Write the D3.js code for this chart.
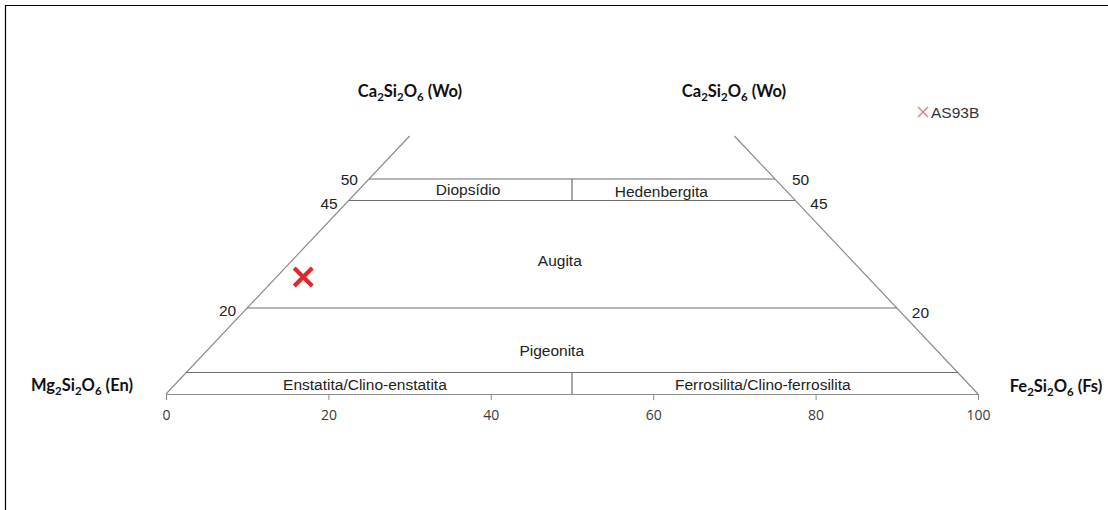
<!DOCTYPE html>
<html><head><meta charset="utf-8">
<script src="https://cdn.jsdelivr.net/npm/d3@7"></script>
<style>body{margin:0;background:#fff}svg{display:block}</style>
</head><body>
<script>
// ---- data ----
const xTicks = [0, 20, 40, 60, 80, 100];
const woLevels = [50, 45, 20, 5];           // horizontal boundaries (Wo %)
const sideLabelsLeft = [50, 45, 20];
const sideLabelsRight = [50, 45, 20];
const dividerRanges = [[45, 50], [0, 5]];   // vertical divider at Fs/(En+Fs)=50
const regionNames = ["Diopsídio", "Hedenbergita", "Augita", "Pigeonita", "Enstatita/Clino-enstatita", "Ferrosilita/Clino-ferrosilita"];
const regionPos = [[37.2, 47.4], [61, 47], [48.5, 31], [47.5, 10], [24.5, 2.2], [73.5, 2.2]]; // [x, Wo]
const sampleName = ["AS93B"];
const sampleFs = [3.3];
const sampleWo = [27.2];

const W = 1108, H = 510;
const svg = d3.select("body").append("svg").attr("width", W).attr("height", H);

// frame
svg.append("path").attr("d", "M5.5,510 V5.5 H1108").attr("fill", "none").attr("stroke", "#000").attr("stroke-width", 1.2);

const x = d3.scaleLinear().domain([0, 100]).range([166, 978]);
const y = d3.scaleLinear().domain([0, 60]).range([394, 136]);
const pos = (fs, wo) => [x(fs + wo / 2), y(wo)];

const g = svg.append("g");
// sides
g.append("line").attr("x1", x(0)).attr("y1", y(0)).attr("x2", x(30)).attr("y2", y(60)).attr("stroke", "#8c8c8c").attr("stroke-width", 1.2);
g.append("line").attr("x1", x(100)).attr("y1", y(0)).attr("x2", x(70)).attr("y2", y(60)).attr("stroke", "#8c8c8c").attr("stroke-width", 1.2);
// horizontal levels
g.selectAll("line.lev").data(woLevels).join("line").attr("class", "lev")
  .attr("x1", d => x(d / 2)).attr("x2", d => x(100 - d / 2))
  .attr("y1", d => y(d)).attr("y2", d => y(d))
  .attr("stroke", "#6e6e6e").attr("stroke-width", 1.2);
// dividers
g.selectAll("line.div").data(dividerRanges).join("line").attr("class", "div")
  .attr("x1", x(50)).attr("x2", x(50)).attr("y1", d => y(d[0])).attr("y2", d => y(d[1]))
  .attr("stroke", "#6e6e6e").attr("stroke-width", 1.2);

// axis
const axis = d3.axisBottom(x).tickValues(xTicks).tickSize(6).tickPadding(10).tickSizeOuter(0);
const ag = svg.append("g").attr("transform", `translate(0,${y(0)})`).call(axis);
ag.select(".domain").attr("stroke", "#8c8c8c").attr("stroke-width", 1.2);
ag.selectAll(".tick line").attr("stroke", "#8c8c8c");
ag.selectAll(".tick text").attr("font-family", "'Open Sans', sans-serif").attr("font-size", 14).attr("fill", "#3a3a3a");

// side labels
const lab = {"font-family": "'Liberation Sans', Arial, sans-serif", "font-size": 15.5, "fill": "#222"};
function applyAttrs(sel, o) { for (const k in o) sel.attr(k, o[k]); return sel; }
applyAttrs(svg.selectAll("text.sl").data(sideLabelsLeft).join("text").attr("class", "sl")
  .attr("x", d => x(d / 2) - 11).attr("y", d => y(d) + (d === 50 ? 6 : 8))
  .attr("text-anchor", "end").text(d => d), lab);
applyAttrs(svg.selectAll("text.sr").data(sideLabelsRight).join("text").attr("class", "sr")
  .attr("x", d => x(100 - d / 2) + (d === 50 ? 17 : 15)).attr("y", d => y(d) + (d === 50 ? 6 : d === 20 ? 10 : 8))
  .attr("text-anchor", "start").text(d => d), lab);

// region labels
applyAttrs(svg.selectAll("text.rg").data(regionNames).join("text").attr("class", "rg")
  .attr("x", (d, i) => x(regionPos[i][0])).attr("y", (d, i) => y(regionPos[i][1]) + 5)
  .attr("text-anchor", "middle").text(d => d), lab);

// endmember labels with subscripts
function formula(parts, px, py, anchor) {
  const t = svg.append("text").attr("x", px).attr("y", py).attr("text-anchor", anchor)
    .attr("font-family", "Lato, 'Open Sans', sans-serif").attr("font-weight", "bold").attr("font-size", 16.5).attr("fill", "#111");
  parts.forEach(p => {
    if (p.sub) t.append("tspan").attr("dy", 4).attr("font-size", 11.5).text(p.s);
    else t.append("tspan").attr("dy", p.after ? -4 : 0).text(p.s);
  });
}
function mk(el, tail) {
  return [{s: el}, {s: "2", sub: 1}, {s: "Si", after: 1}, {s: "2", sub: 1}, {s: "O", after: 1}, {s: "6", sub: 1}, {s: " " + tail, after: 1}];
}
formula(mk("Ca", "(Wo)"), 410, 97, "middle");
formula(mk("Ca", "(Wo)"), 734, 97, "middle");
formula(mk("Mg", "(En)"), 82, 391, "middle");
formula(mk("Fe", "(Fs)"), 1056, 392, "middle");

// sample marker
const cross = (s) => `M${-s},${-s}L${s},${s}M${-s},${s}L${s},${-s}`;
svg.selectAll("path.pt").data(sampleWo).join("path").attr("class", "pt")
  .attr("transform", (d, i) => { const p = pos(sampleFs[i], d); return `translate(${p[0]},${p[1]})`; })
  .attr("d", cross(9)).attr("fill", "none").attr("stroke", "#e3262b").attr("stroke-width", 4.2);

// legend
const lg = svg.append("g").attr("transform", "translate(923,112)");
lg.append("path").attr("d", cross(5)).attr("fill", "none").attr("stroke", "#e07a80").attr("stroke-width", 1.3);
lg.append("text").attr("x", 8).attr("y", 5.5).attr("font-family", "'Liberation Sans', Arial, sans-serif")
  .attr("font-size", 15.5).attr("fill", "#333").text(sampleName[0]);
</script>
</body></html>
